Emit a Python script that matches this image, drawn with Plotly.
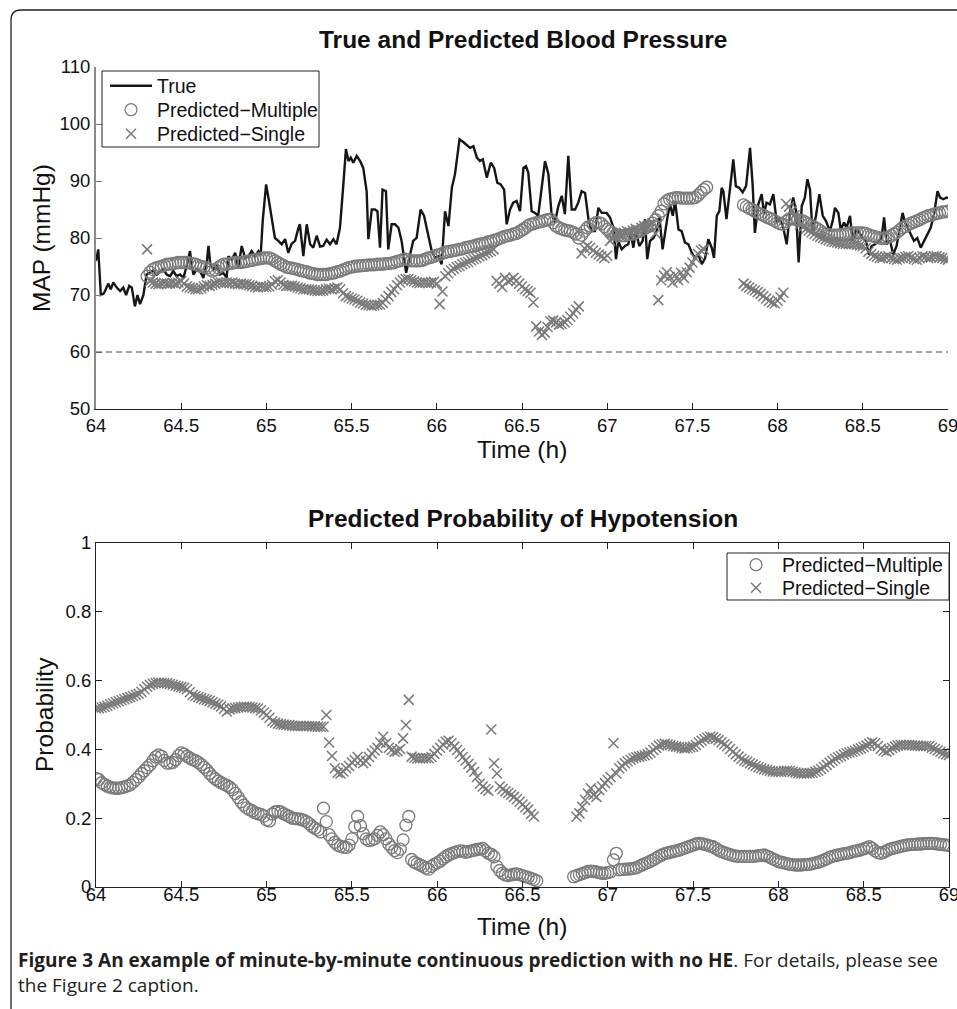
import plotly.graph_objects as go

W, H = 957, 1009
T0 = 64.0

def px(x):
    return x / W

def py(y):
    return 1 - y / H

# ---------------- data ----------------
x_ticks = [64, 64.5, 65, 65.5, 66, 66.5, 67, 67.5, 68, 68.5, 69]
x_tick_labels = ["64", "64.5", "65", "65.5", "66", "66.5", "67", "67.5", "68", "68.5", "69"]
map_ticks = [50, 60, 70, 80, 90, 100, 110]
prob_ticks = [0, 0.2, 0.4, 0.6, 0.8, 1]
prob_tick_labels = ["0", "0.2", "0.4", "0.6", "0.8", "1"]
hypo_threshold = 60

# True MAP (minutes after 64 h, mmHg)
true_min = [0.0, 0.8, 1.7, 2.6, 3.2, 4.3, 5.2, 6.1, 7.3, 8.5, 9.6, 10.6, 11.7, 12.6, 13.7, 14.6, 15.5, 16.7,
            17.8, 19.0, 20.2, 21.4, 22.5, 23.7, 24.9, 26.1, 27.2, 28.4, 29.6, 30.8, 31.9, 33.1, 33.7, 34.3,
            35.5, 36.6, 37.8, 39.0, 39.6, 40.2, 41.3, 42.5, 43.7, 44.8, 46.0, 46.6, 47.8, 49.0, 50.1, 51.3,
            52.5, 53.7, 54.8, 56.0, 57.2, 58.0, 58.7, 59.9, 60.7, 61.9, 63.0, 64.2, 65.4, 66.6, 67.7, 68.9,
            70.1, 71.3, 71.8, 73.0, 74.2, 75.4, 76.5, 77.7, 78.9, 80.0, 81.2, 82.4, 83.6, 84.7, 85.9, 87.1,
            88.0, 88.9, 89.7, 90.6, 91.8, 93.0, 94.1, 95.3, 95.9, 97.1, 98.2, 99.1, 100.0, 100.9, 102.1,
            102.9, 104.1, 105.3, 106.5, 107.6, 109.2, 110.6, 111.7, 112.9, 114.3, 115.5, 117.0, 118.2,
            119.4, 120.6, 121.7, 122.9, 124.1, 125.3, 126.4, 128.0, 129.4, 130.5, 131.7, 132.9, 134.1,
            135.2, 136.2, 137.6, 139.0, 140.2, 141.3, 142.5, 143.7, 144.6, 145.8, 146.9, 148.1, 149.3,
            150.5, 151.4, 152.2, 153.4, 154.6, 155.7, 156.9, 158.1, 159.3, 160.4, 161.6, 162.8, 164.0,
            165.1, 166.3, 167.5, 168.7, 169.8, 171.0, 172.2, 173.4, 174.5, 175.7, 176.9, 178.1, 179.8,
            181.0, 182.2, 183.1, 183.9, 185.1, 186.3, 187.4, 188.3, 189.2, 190.1, 191.3, 192.5, 193.3,
            194.1, 195.1, 196.3, 197.4, 198.4, 199.5, 200.4, 201.2, 202.1, 203.1, 203.9, 205.1, 206.2,
            207.4, 208.6, 209.8, 210.9, 212.1, 213.3, 214.5, 215.6, 216.8, 217.6, 218.6, 219.5, 220.3,
            220.9, 222.0, 223.2, 224.4, 225.3, 226.5, 227.7, 228.9, 230.3, 231.2, 232.0, 233.2, 234.4,
            235.2, 236.1, 237.3, 238.5, 239.7, 240.8, 242.0, 243.2, 244.4, 245.5, 246.5, 247.4, 248.5,
            249.6, 250.5, 251.4, 252.3, 253.5, 254.7, 255.9, 257.0, 258.4, 259.4, 260.2, 261.4, 262.2,
            263.4, 264.3, 265.5, 266.4, 267.6, 268.8, 269.9, 271.1, 272.1, 273.1, 274.3, 275.5, 276.6,
            277.5, 278.4, 279.6, 280.7, 281.9, 283.1, 284.0, 284.9, 285.7, 286.9, 288.0, 289.2, 290.4,
            291.6, 292.7, 293.9, 295.1, 296.3, 297.2, 298.4, 299.5, 300.0]
true_map = [76.0, 78.0, 70.0, 70.2, 70.7, 72.0, 71.0, 72.2, 71.3, 70.7, 71.3, 70.0, 71.6, 71.3, 68.0, 70.0, 68.4, 70.0,
            73.6, 74.0, 74.3, 73.6, 74.0, 74.5, 73.6, 73.3, 74.2, 73.3, 73.6, 73.0, 75.1, 77.7, 75.3, 73.6,
            74.5, 74.2, 73.0, 75.7, 78.6, 75.7, 74.5, 75.1, 73.6, 73.9, 73.0, 76.8, 76.2, 77.4, 74.8, 78.6,
            76.5, 76.8, 77.7, 76.8, 77.7, 77.1, 83.0, 89.4, 87.1, 83.6, 80.0, 79.5, 78.9, 79.8, 77.4, 79.0,
            79.5, 81.8, 82.4, 76.8, 82.4, 78.9, 78.3, 80.4, 78.5, 78.6, 79.7, 78.9, 79.8, 78.9, 81.8, 89.4,
            95.6, 93.5, 94.1, 93.2, 94.4, 93.5, 92.3, 88.2, 79.8, 85.0, 85.0, 84.7, 78.3, 88.5, 88.2,
            78.0, 82.4, 82.4, 81.8, 79.5, 73.9, 77.1, 79.5, 80.0, 85.0, 83.9, 80.6, 77.7,
            76.5, 76.8, 75.4, 84.7, 82.1, 88.8, 91.2, 97.3, 96.8, 96.4, 95.8, 96.1, 94.1,
            93.5, 93.8, 90.6, 93.2, 92.3, 89.7, 89.4, 88.5, 82.4, 85.0, 86.2, 86.5, 84.7,
            92.3, 92.6, 91.5, 84.7, 84.4, 83.9, 88.8, 93.5, 91.2, 84.2, 82.7, 85.6, 87.4,
            84.2, 94.4, 85.0, 85.0, 86.2, 88.2, 87.9, 83.3, 81.2, 81.2, 85.3, 84.4, 84.4,
            83.6, 81.8, 76.3, 79.5, 78.0, 78.6, 78.9, 80.9, 78.3, 81.2, 78.6, 79.5, 83.3,
            76.3, 79.5, 80.0, 81.2, 83.6, 78.0, 81.2, 83.6, 85.9, 83.9, 86.5, 81.5, 81.2,
            79.2, 78.9, 77.4, 76.5, 77.1, 75.4, 76.5, 79.8, 78.3, 76.5, 83.9, 84.7, 88.8,
            88.2, 83.3, 88.5, 93.8, 89.1, 88.8, 88.0, 89.1, 95.8, 89.4, 80.9, 85.9, 87.7,
            84.2, 86.2, 85.9, 87.7, 82.7, 83.3, 81.8, 78.9, 84.7, 87.1, 84.7, 75.7, 85.6,
            87.1, 90.3, 88.5, 80.9, 83.9, 87.7, 83.9, 83.0, 81.2, 83.0, 85.3, 84.4, 81.5,
            82.7, 81.8, 83.9, 79.5, 81.5, 80.9, 80.0, 79.5, 77.1, 78.6, 78.9, 79.5, 80.0,
            83.6, 78.9, 79.5, 77.1, 78.6, 81.8, 84.4, 82.7, 81.8, 80.6, 79.5, 80.0, 78.3,
            79.5, 80.6, 81.8, 84.2, 88.2, 87.1, 86.8, 87.1, 87.0]

# Predicted MAP, one value per minute; each segment starts at the given minute
map_multi_start = [18, 228]
map_multi = [
    [73.3, 74.0, 74.5, 74.7, 74.9, 75.0, 75.2, 75.4, 75.4, 75.5,
     75.6, 75.7, 75.7, 75.7, 75.7, 75.6, 75.5, 75.4, 75.2, 75.0,
     74.9, 74.8, 74.5, 74.2, 74.4, 74.8, 75.1, 75.4, 75.4, 75.5,
     75.6, 75.7, 75.7, 75.7, 75.8, 75.9, 76.0, 76.1, 76.2, 76.3,
     76.4, 76.5, 76.5, 76.5, 76.3, 76.0, 75.7, 75.4, 75.2, 74.9,
     74.8, 74.7, 74.6, 74.5, 74.3, 74.2, 74.1, 73.9, 73.8, 73.7,
     73.6, 73.6, 73.6, 73.6, 73.7, 73.8, 73.9, 74.1, 74.2, 74.4,
     74.6, 74.8, 74.9, 75.0, 75.1, 75.1, 75.2, 75.2, 75.3, 75.3,
     75.3, 75.4, 75.4, 75.4, 75.5, 75.5, 75.6, 75.7, 75.9, 76.0,
     76.2, 76.3, 76.2, 76.0, 76.0, 76.0, 76.0, 76.1, 76.3, 76.5,
     76.6, 76.8, 77.0, 77.1, 77.3, 77.5, 77.6, 77.7, 77.8, 77.9,
     78.0, 78.1, 78.3, 78.4, 78.5, 78.6, 78.8, 78.9, 79.0, 79.1,
     79.3, 79.4, 79.6, 79.7, 79.9, 80.1, 80.3, 80.4, 80.5, 80.7,
     80.8, 81.1, 81.4, 81.7, 82.1, 82.4, 82.5, 82.7, 82.8, 82.9,
     83.1, 83.2, 83.3, 82.7, 82.1, 81.8, 81.6, 81.4, 81.3, 81.2,
     81.0, 80.7, 80.0, 80.5, 81.2, 81.8, 82.1, 82.4, 82.7, 82.7,
     82.5, 82.0, 81.5, 81.2, 80.9, 80.6, 80.5, 80.4, 80.4, 80.5,
     80.6, 80.7, 80.9, 81.1, 81.4, 81.6, 81.9, 82.1, 82.6, 83.2,
     83.9, 84.7, 86.0, 86.5, 86.8, 86.9, 87.1, 87.1, 87.0, 87.0,
     87.0, 87.0, 87.0, 87.1, 87.5, 88.0, 88.5, 88.9],
    [85.8, 85.5, 85.2, 85.0, 84.7, 84.4, 84.2, 84.0, 83.7, 83.5,
     83.3, 83.0, 82.7, 82.5, 82.4, 82.9, 83.3, 83.4, 83.3, 83.2,
     83.1, 83.0, 82.7, 82.4, 82.2, 81.9, 81.6, 81.3, 80.9, 80.7,
     80.6, 80.5, 80.5, 80.5, 80.6, 80.6, 80.7, 80.9, 80.9, 80.9,
     80.9, 80.9, 80.9, 80.8, 80.6, 80.4, 80.3, 80.1, 80.0, 79.9,
     80.0, 80.1, 80.4, 80.7, 81.0, 81.4, 81.8, 82.0, 82.3, 82.6,
     82.8, 83.0, 83.2, 83.5, 83.7, 83.9, 84.0, 84.2, 84.3, 84.4,
     84.6, 84.6, 84.7],
]

map_single_start = [18, 228]
map_single = [
    [78.0, 72.4, 72.2, 72.0, 71.9, 72.0, 72.1, 72.0, 72.0, 72.1,
     72.0, 72.2, 72.4, 72.0, 71.5, 71.3, 71.2, 71.0, 71.0, 71.2,
     71.5, 71.7, 71.6, 71.8, 72.0, 72.2, 72.2, 72.1, 72.2, 72.1,
     72.2, 72.0, 71.9, 72.0, 71.9, 71.9, 71.7, 71.6, 71.4, 71.3,
     71.5, 71.4, 71.4, 71.5, 71.8, 72.4, 72.6, 72.2, 71.8, 71.6,
     71.6, 71.6, 71.5, 71.3, 71.2, 71.0, 71.0, 71.0, 70.9, 70.8,
     70.7, 70.7, 70.8, 71.0, 71.1, 71.0, 71.2, 71.3, 71.0, 70.3,
     69.8, 69.6, 69.4, 69.2, 69.0, 68.7, 68.5, 68.3, 68.2, 68.1,
     68.2, 68.3, 68.3, 68.6, 69.2, 69.8, 70.5, 71.0, 71.7, 72.2,
     72.6, 72.8, 72.8, 72.6, 72.4, 72.2, 72.1, 72.2, 72.2, 72.1,
     72.2, 72.3, 72.0, 68.4, 70.6, 73.3, 73.8, 74.3, 74.6, 74.9,
     75.1, 75.4, 75.6, 75.8, 76.1, 76.3, 76.5, 76.8, 77.0, 77.3,
     77.5, 77.7, 78.0, 72.5, 72.0, 71.4, 73.0, 72.4, 72.6, 73.0,
     72.5, 72.0, 71.5, 71.0, 70.7, 70.4, 68.7, 64.5, 63.6, 63.0,
     63.4, 64.4, 65.4, 65.5, 65.2, 64.8, 64.9, 65.2, 65.6, 66.2,
     66.8, 67.4, 68.0, 77.3, 78.2, 78.6, 78.3, 77.8, 77.4, 77.1,
     76.8, 76.5, 76.9, 79.5, 80.0, 80.3, 80.6, 80.5, 80.9, 81.2,
     81.0, 81.3, 81.6, 81.4, 81.8, 82.1, 82.0, 82.3, 82.6, 80.8,
     69.1, 72.6, 73.4, 74.0, 73.2, 72.2, 73.5, 72.6, 73.9, 73.0,
     74.0, 74.8, 75.7, 76.5, 77.2, 77.8, 78.0],
    [72.0, 71.6, 71.3, 71.0, 70.8, 70.5, 70.2, 69.8, 69.4, 69.0,
     68.7, 68.5, 69.0, 69.6, 70.4, 86.0, 85.5, 84.8, 84.0, 83.2,
     82.4, 81.9, 81.6, 81.3, 81.0, 80.7, 80.4, 80.2, 80.0, 79.8,
     79.6, 79.4, 79.3, 79.2, 79.1, 79.0, 79.0, 78.9, 78.9, 78.9,
     78.8, 78.7, 78.6, 78.2, 77.6, 77.2, 76.9, 76.7, 76.5, 76.5,
     76.7, 76.8, 76.5, 76.3, 76.2, 76.4, 76.5, 76.7, 76.8, 76.6,
     76.3, 76.2, 76.5, 76.8, 76.7, 76.5, 76.6, 76.8, 76.8, 76.6,
     76.5, 76.3, 76.2],
]

# Predicted probability of hypotension, one value per minute
prob_multi_start = [0, 168]
prob_multi = [
    [0.316, 0.312, 0.303, 0.298, 0.293, 0.290, 0.288, 0.287, 0.287, 0.289,
     0.291, 0.294, 0.297, 0.304, 0.312, 0.320, 0.330, 0.338, 0.347, 0.355,
     0.367, 0.378, 0.384, 0.380, 0.368, 0.360, 0.360, 0.362, 0.370, 0.382,
     0.390, 0.386, 0.380, 0.375, 0.370, 0.367, 0.362, 0.356, 0.348, 0.340,
     0.330, 0.321, 0.314, 0.308, 0.303, 0.299, 0.295, 0.290, 0.283, 0.272,
     0.260, 0.248, 0.238, 0.230, 0.225, 0.221, 0.216, 0.213, 0.211, 0.206,
     0.195, 0.192, 0.212, 0.218, 0.220, 0.218, 0.213, 0.209, 0.205, 0.200,
     0.199, 0.198, 0.197, 0.194, 0.190, 0.184, 0.176, 0.171, 0.166, 0.160,
     0.229, 0.190, 0.152, 0.140, 0.130, 0.122, 0.118, 0.116, 0.115, 0.122,
     0.140, 0.175, 0.205, 0.178, 0.155, 0.140, 0.135, 0.137, 0.140, 0.150,
     0.160, 0.152, 0.140, 0.125, 0.115, 0.106, 0.100, 0.110, 0.137, 0.180,
     0.205, 0.080, 0.072, 0.068, 0.064, 0.060, 0.055, 0.052, 0.060, 0.066,
     0.070, 0.075, 0.082, 0.088, 0.093, 0.097, 0.100, 0.103, 0.105, 0.104,
     0.101, 0.103, 0.105, 0.107, 0.109, 0.110, 0.112, 0.105, 0.098, 0.095,
     0.088, 0.060, 0.048, 0.040, 0.035, 0.033, 0.035, 0.037, 0.038, 0.036,
     0.033, 0.030, 0.028, 0.025, 0.022, 0.018],
    [0.030, 0.033, 0.036, 0.039, 0.042, 0.045, 0.046, 0.045, 0.044, 0.042,
     0.040, 0.040, 0.042, 0.044, 0.079, 0.098, 0.050, 0.051, 0.052, 0.052,
     0.053, 0.054, 0.056, 0.060, 0.064, 0.068, 0.071, 0.075, 0.079, 0.084,
     0.089, 0.093, 0.097, 0.099, 0.101, 0.103, 0.105, 0.107, 0.110, 0.113,
     0.116, 0.119, 0.122, 0.125, 0.127, 0.126, 0.124, 0.122, 0.119, 0.117,
     0.112, 0.107, 0.103, 0.100, 0.097, 0.094, 0.092, 0.090, 0.089, 0.089,
     0.089, 0.089, 0.089, 0.089, 0.090, 0.091, 0.092, 0.093, 0.090, 0.086,
     0.082, 0.078, 0.074, 0.072, 0.070, 0.068, 0.066, 0.065, 0.064, 0.064,
     0.064, 0.065, 0.065, 0.066, 0.068, 0.070, 0.072, 0.075, 0.078, 0.082,
     0.086, 0.089, 0.091, 0.093, 0.095, 0.097, 0.098, 0.100, 0.102, 0.104,
     0.106, 0.108, 0.111, 0.114, 0.117, 0.112, 0.105, 0.100, 0.098, 0.101,
     0.105, 0.109, 0.112, 0.114, 0.116, 0.118, 0.120, 0.122, 0.123, 0.124,
     0.124, 0.125, 0.125, 0.126, 0.126, 0.127, 0.127, 0.126, 0.125, 0.124,
     0.123, 0.122, 0.121],
]

prob_single_start = [0, 169]
prob_single = [
    [0.519, 0.520, 0.522, 0.524, 0.527, 0.531, 0.534, 0.537, 0.540, 0.543,
     0.546, 0.549, 0.552, 0.555, 0.559, 0.562, 0.567, 0.575, 0.582, 0.587,
     0.591, 0.593, 0.594, 0.594, 0.593, 0.592, 0.590, 0.588, 0.585, 0.583,
     0.581, 0.579, 0.575, 0.566, 0.558, 0.555, 0.552, 0.549, 0.546, 0.544,
     0.541, 0.537, 0.533, 0.530, 0.525, 0.518, 0.510, 0.516, 0.519, 0.520,
     0.522, 0.523, 0.524, 0.524, 0.523, 0.522, 0.520, 0.519, 0.514, 0.507,
     0.500, 0.492, 0.482, 0.478, 0.475, 0.473, 0.472, 0.471, 0.470, 0.469,
     0.468, 0.468, 0.468, 0.468, 0.468, 0.468, 0.467, 0.467, 0.466, 0.466,
     0.466, 0.500, 0.420, 0.381, 0.345, 0.332, 0.330, 0.336, 0.345, 0.352,
     0.362, 0.369, 0.378, 0.368, 0.360, 0.366, 0.378, 0.388, 0.397, 0.405,
     0.420, 0.437, 0.418, 0.405, 0.398, 0.393, 0.395, 0.401, 0.432, 0.471,
     0.544, 0.379, 0.376, 0.374, 0.374, 0.374, 0.375, 0.374, 0.378, 0.387,
     0.396, 0.405, 0.414, 0.422, 0.425, 0.418, 0.408, 0.398, 0.388, 0.378,
     0.368, 0.358, 0.347, 0.335, 0.320, 0.300, 0.292, 0.285, 0.280, 0.458,
     0.360, 0.330, 0.292, 0.285, 0.278, 0.273, 0.268, 0.262, 0.255, 0.248,
     0.240, 0.232, 0.225, 0.212, 0.205],
    [0.204, 0.214, 0.233, 0.253, 0.272, 0.287, 0.268, 0.262, 0.282, 0.292,
     0.302, 0.311, 0.320, 0.418, 0.330, 0.345, 0.352, 0.360, 0.365, 0.370,
     0.374, 0.377, 0.379, 0.381, 0.383, 0.386, 0.391, 0.398, 0.405, 0.411,
     0.414, 0.416, 0.414, 0.412, 0.410, 0.408, 0.407, 0.405, 0.403, 0.404,
     0.406, 0.408, 0.413, 0.420, 0.425, 0.430, 0.434, 0.437, 0.435, 0.431,
     0.427, 0.421, 0.415, 0.409, 0.401, 0.393, 0.386, 0.379, 0.373, 0.367,
     0.364, 0.360, 0.356, 0.352, 0.348, 0.345, 0.342, 0.340, 0.338, 0.336,
     0.335, 0.335, 0.335, 0.337, 0.338, 0.337, 0.335, 0.333, 0.331, 0.330,
     0.330, 0.330, 0.331, 0.332, 0.335, 0.338, 0.343, 0.349, 0.355, 0.361,
     0.367, 0.372, 0.377, 0.381, 0.385, 0.389, 0.391, 0.393, 0.396, 0.400,
     0.403, 0.407, 0.411, 0.416, 0.421, 0.418, 0.410, 0.402, 0.396, 0.393,
     0.398, 0.404, 0.408, 0.411, 0.413, 0.413, 0.413, 0.413, 0.412, 0.411,
     0.411, 0.410, 0.410, 0.410, 0.409, 0.405, 0.401, 0.397, 0.393, 0.389,
     0.386, 0.384],
]


def seg_xy(starts, segs):
    xs, ys = [], []
    for s, vals in zip(starts, segs):
        for i, v in enumerate(vals):
            xs.append(T0 + (s + i) / 60.0)
            ys.append(v)
        xs.append(None)
        ys.append(None)
    return xs, ys


FONT = "Liberation Sans, Arial, sans-serif"
GRAY = "#7a7a7a"
LINE_BLACK = "#161616"
LEG_FONT = dict(family=FONT, size=19.5, color="#111111")
CIRCLE = dict(symbol="circle-open", size=12, color=GRAY, line=dict(width=1.3))
CROSS = dict(symbol="x-thin-open", size=10, color=GRAY, line=dict(width=1.5, color=GRAY))

fig = go.Figure()

# --- top panel ---
fig.add_trace(go.Scatter(
    x=[T0 + m / 60.0 for m in true_min], y=true_map, mode="lines", name="True",
    line=dict(color=LINE_BLACK, width=2.4), xaxis="x", yaxis="y", legend="legend"))
xm, ym = seg_xy(map_multi_start, map_multi)
fig.add_trace(go.Scatter(x=xm, y=ym, mode="markers", name="Predicted\u2212Multiple",
                         marker=CIRCLE, xaxis="x", yaxis="y", legend="legend3"))
xs_, ys_ = seg_xy(map_single_start, map_single)
fig.add_trace(go.Scatter(x=xs_, y=ys_, mode="markers", name="Predicted\u2212Single",
                         marker=CROSS, xaxis="x", yaxis="y", legend="legend4"))

# --- bottom panel ---
xm2, ym2 = seg_xy(prob_multi_start, prob_multi)
fig.add_trace(go.Scatter(x=xm2, y=ym2, mode="markers", name="Predicted\u2212Multiple",
                         marker=CIRCLE, xaxis="x2", yaxis="y2", legend="legend2"))
xs2, ys2 = seg_xy(prob_single_start, prob_single)
fig.add_trace(go.Scatter(x=xs2, y=ys2, mode="markers", name="Predicted\u2212Single",
                         marker=CROSS, xaxis="x2", yaxis="y2", legend="legend5"))

tickfont = dict(family=FONT, size=18.5, color="#111111")
common_x = dict(range=[64, 69], tickmode="array", tickvals=x_ticks, ticktext=x_tick_labels,
                ticks="inside", ticklen=6, tickwidth=1, tickcolor="#222222",
                showline=True, linecolor="#222222", linewidth=1, automargin=False,
                ticklabeloverflow="allow",
                showgrid=False, zeroline=False, tickfont=tickfont)


def leg(x_left, y_mid):
    return dict(x=px(x_left), y=py(y_mid), xanchor="left", yanchor="middle",
                borderwidth=0, bgcolor="rgba(0,0,0,0)", font=LEG_FONT,
                itemwidth=42, tracegroupgap=0)


fig.update_layout(
    width=W, height=H,
    margin=dict(l=0, r=0, t=0, b=0, autoexpand=False),
    paper_bgcolor="white", plot_bgcolor="white",
    xaxis=dict(domain=[px(96), px(948)], anchor="y", **common_x),
    yaxis=dict(domain=[py(409), py(67)], anchor="x", range=[50, 110], tickmode="array",
               tickvals=map_ticks, ticks="inside", ticklen=6, tickwidth=1, tickcolor="#7a7a7a",
               showline=True, linecolor="#8a8a8a", linewidth=2, automargin=False,
               showgrid=False, zeroline=False, tickfont=tickfont),
    xaxis2=dict(domain=[px(96), px(949)], anchor="y2", mirror="ticks", ticklabelstandoff=-9,
                **common_x),
    yaxis2=dict(domain=[py(887), py(543)], anchor="x2", range=[0, 1], tickmode="array",
                tickvals=prob_ticks, ticktext=prob_tick_labels, ticks="inside", ticklen=6,
                tickwidth=1, tickcolor="#222222", showline=True, linecolor="#222222",
                linewidth=1, mirror="ticks", showgrid=False, zeroline=False, automargin=False,
                tickfont=tickfont),
    legend=leg(105, 86),
    legend3=leg(105, 110),
    legend4=leg(105, 134),
    legend2=leg(730, 565),
    legend5=leg(730, 588),
    showlegend=True,
)

# legend boxes
for (x0, y0, x1, y1) in [(102, 71, 319, 147), (727, 553, 949, 600)]:
    fig.add_shape(type="rect", xref="paper", yref="paper", x0=px(x0), x1=px(x1), y0=py(y1), y1=py(y0),
                  line=dict(color="#222222", width=1), fillcolor="white", layer="above")

# hypotension threshold
fig.add_shape(type="line", xref="x", yref="y", x0=64, x1=69, y0=hypo_threshold, y1=hypo_threshold,
              line=dict(color="#4d4d4d", width=1, dash="6px,4px"))

# frame with rounded top-left corner
fx, fy, r = 11, 10, 10
frame_path = (f"M {px(fx)},{py(H)} L {px(fx)},{py(fy + r)} "
              f"Q {px(fx)},{py(fy)} {px(fx + r)},{py(fy)} L {px(W)},{py(fy)}")
fig.add_shape(type="path", xref="paper", yref="paper", path=frame_path,
              line=dict(color="#222222", width=1.3))


def ann(x, y, text, size, angle=0, anchor="center", family=FONT, color="#111111"):
    fig.add_annotation(x=px(x), y=py(y), xref="paper", yref="paper", text=text, showarrow=False,
                       xanchor=anchor, yanchor="middle", textangle=angle,
                       font=dict(family=family, size=size, color=color))


ann(523, 40, "<b>True and Predicted Blood Pressure</b>", 24.5)
ann(523, 518, "<b>Predicted Probability of Hypotension</b>", 24.5)
ann(41, 238, "MAP (mmHg)", 24.5, angle=-90)
ann(44, 715, "Probability", 24.5, angle=-90)
ann(522, 449, "Time (h)", 24.5)
ann(522, 926, "Time (h)", 24.5)

CAP = "Open Sans, Noto Sans, sans-serif"
ann(16, 960, "<b>Figure 3 An example of minute-by-minute continuous prediction with no HE</b>. "
    "For details, please see", 19, anchor="left", family=CAP, color="#231f20")
ann(16, 985, "the Figure 2 caption.", 19, anchor="left", family=CAP, color="#231f20")

fig.write_html("out.html")
